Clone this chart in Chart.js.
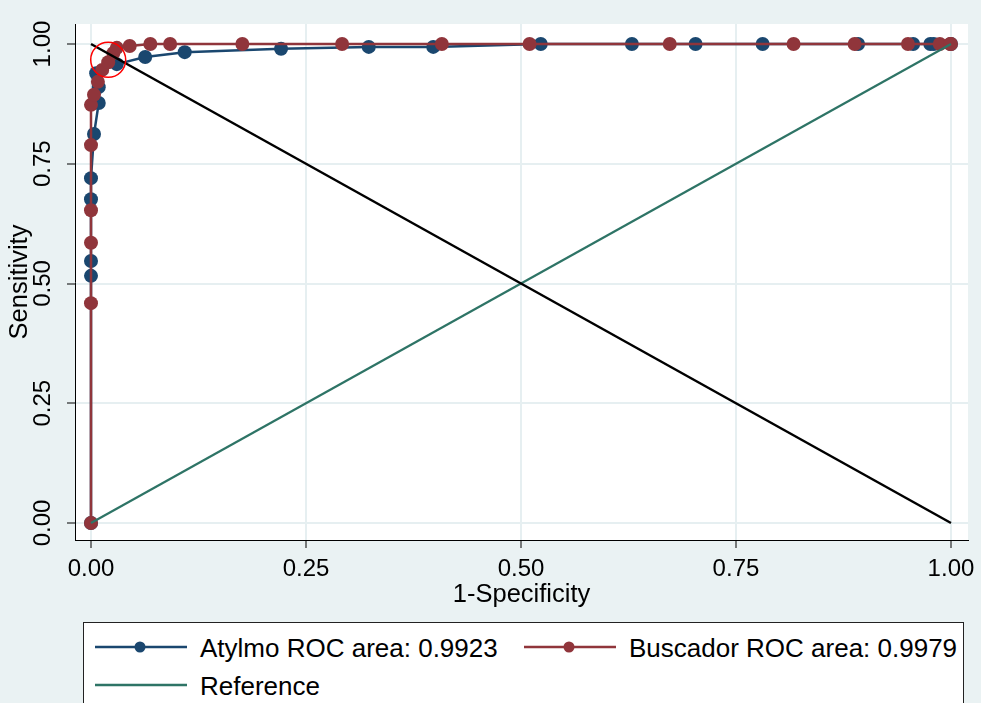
<!DOCTYPE html>
<html>
<head>
<meta charset="utf-8">
<script src="https://cdn.jsdelivr.net/npm/chart.js@4/dist/chart.umd.min.js"></script>
<style>
  body { margin: 0; background: #eaf2f3; }
  #wrap { position: relative; width: 981px; height: 703px; overflow: hidden; background: #eaf2f3; }
  #roc { position: absolute; left: 0; top: 0; }
  .legend { position: absolute; left: 83px; top: 622px; width: 879px; height: 100px;
            border: 1px solid #222; background: #fff; font-family: "Liberation Sans", Arial, sans-serif;
            font-size: 26px; color: #000; }
  .legend svg, .legend span { position: absolute; }
  .legend span { line-height: 30px; white-space: nowrap; }
</style>
</head>
<body>
<div id="wrap">
  <canvas id="roc" width="981" height="703"></canvas>
  <div class="legend">
    <svg style="left:11px;top:14px" width="92" height="20"><line x1="0" y1="10" x2="92" y2="10" stroke="#1a476f" stroke-width="2.5"/><circle cx="45" cy="10" r="5.5" fill="#1a476f"/></svg>
    <span style="left:116px;top:10px">Atylmo ROC area: 0.9923</span>
    <svg style="left:440px;top:14px" width="92" height="20"><line x1="0" y1="10" x2="92" y2="10" stroke="#90353b" stroke-width="2.5"/><circle cx="45" cy="10" r="5.5" fill="#90353b"/></svg>
    <span style="left:545px;top:10px">Buscador ROC area: 0.9979</span>
    <svg style="left:11px;top:52px" width="92" height="20"><line x1="0" y1="10" x2="92" y2="10" stroke="#2e7466" stroke-width="2.5"/></svg>
    <span style="left:116px;top:48px">Reference</span>
  </div>
</div>
<script>
// 1-Specificity / Sensitivity
var atylmoX = [0, 0, 0, 0, 0, 0.0035, 0.009, 0.009, 0.006, 0.030, 0.063, 0.109, 0.221, 0.323, 0.398, 0.523, 0.629, 0.703, 0.781, 0.892, 0.956, 0.976, 0.980, 1];
var atylmoY = [0, 0.516, 0.547, 0.676, 0.720, 0.812, 0.877, 0.910, 0.939, 0.958, 0.973, 0.983, 0.990, 0.994, 0.994, 1, 1, 1, 1, 1, 1, 1, 1, 1];
var buscadorX = [0, 0, 0, 0, 0, 0, 0.0035, 0.008, 0.013, 0.020, 0.026, 0.030, 0.045, 0.069, 0.092, 0.176, 0.292, 0.408, 0.510, 0.673, 0.817, 0.888, 0.950, 0.987, 0.999, 1];
var buscadorY = [0, 0.459, 0.585, 0.653, 0.789, 0.873, 0.894, 0.921, 0.946, 0.962, 0.981, 0.992, 0.996, 1, 1, 1, 1, 1, 1, 1, 1, 1, 1, 1, 1, 1];
var refX = [0, 1];
var refY = [0, 1];
var diagX = [0, 1];
var diagY = [1, 0];
var cutX = [0.020];
var cutY = [0.967];
var tickVals = [0, 0.25, 0.5, 0.75, 1];

function pts(xs, ys) {
    return xs.map(function (x, i) { return { x: x, y: ys[i] }; });
}

var navy = '#1a476f';
var maroon = '#90353b';
var teal = '#2e7466';
var font = { family: '"Liberation Sans", Arial, sans-serif', size: 24 };
var titleFont = { family: '"Liberation Sans", Arial, sans-serif', size: 25.5 };

var plotBg = {
    id: 'plotBg',
    beforeDraw: function (chart) {
        var a = chart.chartArea;
        chart.ctx.save();
        chart.ctx.fillStyle = '#ffffff';
        chart.ctx.fillRect(a.left, a.top, a.right - a.left, a.bottom - a.top);
        chart.ctx.restore();
    }
};

function fixTicks(scale) {
    scale.ticks = tickVals.map(function (v) { return { value: v }; });
}

var ctx = document.getElementById('roc').getContext('2d');
var rocChart = new Chart(ctx, {
    type: 'scatter',
    data: {
        datasets: [{
            label: 'cut',
            data: pts(cutX, cutY),
            pointRadius: 17.5,
            pointBackgroundColor: 'rgba(0,0,0,0)',
            pointBorderColor: '#ff0000',
            pointBorderWidth: 1.5,
            showLine: false,
            order: 0
        }, {
            label: 'diag',
            data: pts(diagX, diagY),
            borderColor: '#000000',
            borderWidth: 2.5,
            pointRadius: 0,
            showLine: true,
            order: 1
        }, {
            label: 'Reference',
            data: pts(refX, refY),
            borderColor: teal,
            borderWidth: 2.2,
            pointRadius: 0,
            showLine: true,
            order: 2
        }, {
            label: 'Buscador ROC area: 0.9979',
            data: pts(buscadorX, buscadorY),
            borderColor: maroon,
            backgroundColor: maroon,
            borderWidth: 2.5,
            pointRadius: 7,
            pointBorderWidth: 0,
            showLine: true,
            order: 3
        }, {
            label: 'Atylmo ROC area: 0.9923',
            data: pts(atylmoX, atylmoY),
            borderColor: navy,
            backgroundColor: navy,
            borderWidth: 2.5,
            pointRadius: 7,
            pointBorderWidth: 0,
            showLine: true,
            order: 4
        }]
    },
    options: {
        responsive: false,
        devicePixelRatio: 1,
        animation: false,
        layout: { autoPadding: false, padding: { top: 24, right: 13, left: 0, bottom: 0 } },
        plugins: { legend: { display: false }, tooltip: { enabled: false } },
        scales: {
            x: {
                type: 'linear',
                min: -0.0186,
                max: 1.0198,
                afterBuildTicks: fixTicks,
                afterFit: function (s) { s.height = 163; s.paddingLeft = 0; s.paddingRight = 0; },
                grid: { color: '#e6eff1', lineWidth: 2, tickColor: '#000', tickLength: 8, tickWidth: 1 },
                border: { display: true, color: '#000', width: 1 },
                ticks: {
                    color: '#000', font: font, padding: 7, maxRotation: 0,
                    callback: function (v) { return v.toFixed(2); }
                },
                title: { display: true, text: '1-Specificity', color: '#000', font: titleFont, padding: { top: 0, bottom: 93 } }
            },
            y: {
                type: 'linear',
                min: -0.0355,
                max: 1.0418,
                afterBuildTicks: fixTicks,
                afterFit: function (s) { s.width = 75; s.paddingTop = 0; s.paddingBottom = 0; },
                grid: { color: '#e6eff1', lineWidth: 2, tickColor: '#000', tickLength: 8, tickWidth: 1 },
                border: { display: true, color: '#000', width: 1 },
                ticks: {
                    color: '#000', font: font, padding: 0, minRotation: 90, maxRotation: 90, crossAlign: 'center',
                    callback: function (v) { return v.toFixed(2); }
                },
                title: { display: true, text: 'Sensitivity', color: '#000', font: titleFont, padding: { top: 5, bottom: 0 } }
            }
        }
    },
    plugins: [plotBg]
});
</script>
</body>
</html>
